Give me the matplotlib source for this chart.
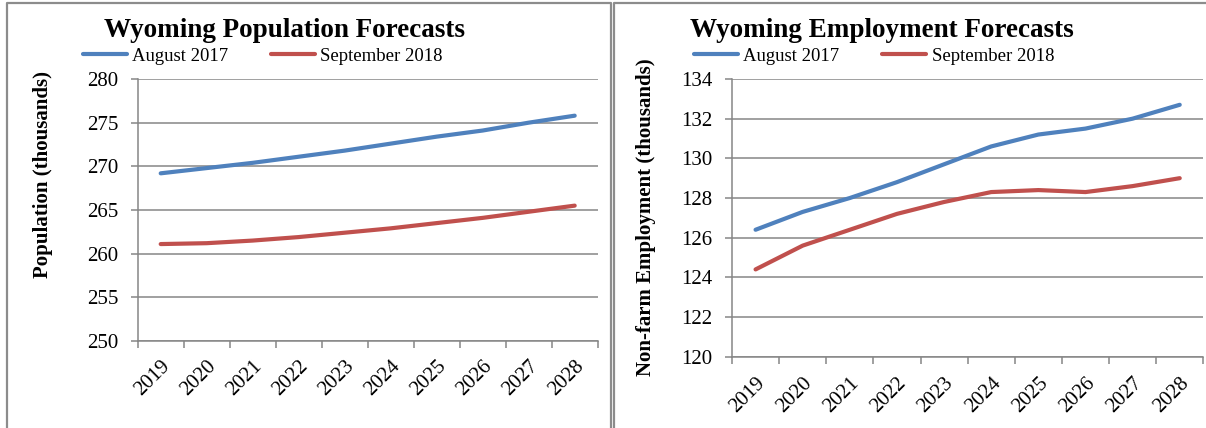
import matplotlib
matplotlib.use("Agg")
import matplotlib.pyplot as plt
from matplotlib.lines import Line2D
from matplotlib.transforms import ScaledTranslation

# Forecast years and series (thousands)
years = ["2019", "2020", "2021", "2022", "2023", "2024", "2025", "2026", "2027", "2028"]
pop_aug2017 = [269.2, 269.8, 270.4, 271.1, 271.8, 272.6, 273.4, 274.1, 275.0, 275.8]
pop_sep2018 = [261.1, 261.2, 261.5, 261.9, 262.4, 262.9, 263.5, 264.1, 264.8, 265.5]
emp_aug2017 = [126.4, 127.3, 128.0, 128.8, 129.7, 130.6, 131.2, 131.5, 132.0, 132.7]
emp_sep2018 = [124.4, 125.6, 126.4, 127.2, 127.8, 128.3, 128.4, 128.3, 128.6, 129.0]
series_names = ["August 2017", "September 2018"]

BLUE = "#4F81BD"
RED = "#C0504D"
GRID = "#868686"
FRAME = "#8c8c8c"

plt.rcParams["font.family"] = ["Liberation Serif", "DejaVu Serif"]

W, H = 1206, 428
fig = plt.figure(figsize=(W / 100, H / 100), dpi=100)


def px(x, y):
    return x / W, 1 - y / H


def panel(rect, values_a, values_b, yticks, title, title_x, legend_x, ylabel, ylabel_xy, xpad):
    ax = fig.add_axes(rect)
    x = list(range(len(years)))
    ax.plot(x, values_a, color=BLUE, lw=3.0, solid_capstyle="round", solid_joinstyle="round",
            label=series_names[0], zorder=3)
    ax.plot(x, values_b, color=RED, lw=3.0, solid_capstyle="round", solid_joinstyle="round",
            label=series_names[1], zorder=3)
    ax.set_xlim(-0.5, len(years) - 0.5)
    ax.set_ylim(yticks[0], yticks[-1])
    ax.set_yticks(yticks)
    ax.set_yticklabels([str(t) for t in yticks], fontsize=15)
    ax.set_xticks(x)
    ax.set_xticklabels(years, fontsize=15, rotation=45, ha="right", va="top",
                       rotation_mode="anchor")
    shift = ScaledTranslation(-5 / 100, 0, fig.dpi_scale_trans)
    for lab in ax.get_xticklabels():
        lab.set_transform(lab.get_transform() + shift)
    ax.set_xticks([i - 0.5 for i in range(len(years) + 1)], minor=True)
    ax.tick_params(axis="x", which="major", length=0, pad=xpad)
    ax.tick_params(axis="x", which="minor", length=5, width=1.1, color=GRID)
    ax.tick_params(axis="y", length=5, width=1.1, color=GRID, pad=9)
    ax.grid(axis="y", color=GRID, lw=1.1, zorder=0)
    for s in ("top", "right"):
        ax.spines[s].set_visible(False)
    for s in ("left", "bottom"):
        ax.spines[s].set_color(GRID)
        ax.spines[s].set_linewidth(1.1)

    tx, ty = px(title_x, 37)
    fig.text(tx, ty, title, ha="center", va="baseline", fontsize=19.5, fontweight="bold")

    lx, ly = px(legend_x, 56)
    handles = [Line2D([], [], color=BLUE, lw=3.0, solid_capstyle="round"),
               Line2D([], [], color=RED, lw=3.0, solid_capstyle="round")]
    fig.legend(handles, series_names, loc="center", bbox_to_anchor=(lx, ly), ncol=2,
               frameon=False, fontsize=13.5, handlelength=2.35, handletextpad=0.27,
               columnspacing=2.3, borderpad=0, borderaxespad=0)

    yx, yy = px(*ylabel_xy)
    fig.text(yx, yy, ylabel, rotation=90, ha="center", va="center", fontsize=15,
             fontweight="bold")
    return ax


x0, y0 = px(137.7, 341)
x1, y1 = px(597.7, 79)
panel([x0, y0, x1 - x0, y1 - y0], pop_aug2017, pop_sep2018,
      [250, 255, 260, 265, 270, 275, 280], "Wyoming Population Forecasts", 284, 263,
      "Population (thousands)", (43.5, 175), 11)

x0, y0 = px(732, 356.7)
x1, y1 = px(1203.3, 79)
panel([x0, y0, x1 - x0, y1 - y0], emp_aug2017, emp_sep2018,
      [120, 122, 124, 126, 128, 130, 132, 134], "Wyoming Employment Forecasts", 882, 874,
      "Non-farm Employment (thousands)", (646, 217.5), 12)

# panel frames (open at the bottom)
for xs, ys in [((7, 7, 611, 611), (H, 3, 3, H)), ((614, 614, W + 5), (H, 3, 3))]:
    fx = [x / W for x in xs]
    fy = [1 - y / H for y in ys]
    fig.add_artist(Line2D(fx, fy, color=FRAME, lw=1.6, transform=fig.transFigure))

fig.savefig("out.png", dpi=100)
